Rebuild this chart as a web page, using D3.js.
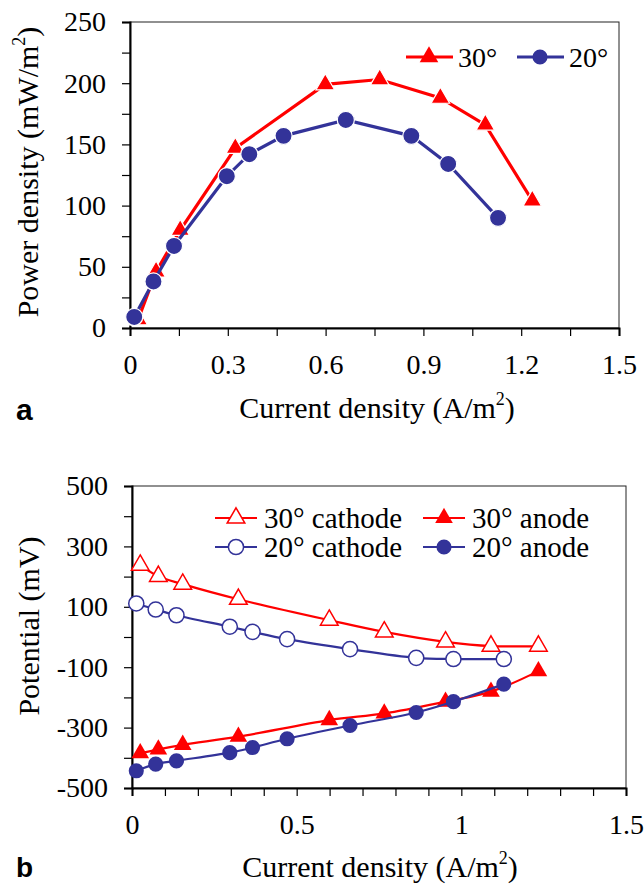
<!DOCTYPE html>
<html lang="en">
<head>
    <meta charset="UTF-8">
    <title>Power density and electrode potential</title>
    <script src="https://cdn.jsdelivr.net/npm/d3@7"></script>
    <style>
        body { margin: 0; background: white; }
        svg text { font-family: "Liberation Serif", "Times New Roman", Times, serif; fill: black; }
        svg text.panel { font-family: "Liberation Sans", Arial, sans-serif; font-weight: bold; }
    </style>
</head>
<body>
<svg id="chart" width="644" height="885"></svg>
<script>
    // data
    // (a) power density, mW/m2
    var x30 = [0.025, 0.08, 0.154, 0.323, 0.599, 0.766, 0.952, 1.09, 1.234];
    var pd30 = [7, 46, 80, 147, 199, 203, 188, 166, 104];
    var x20 = [0.013, 0.072, 0.135, 0.297, 0.366, 0.471, 0.662, 0.863, 0.976, 1.129];
    var pd20 = [9, 38, 67, 124, 142, 157, 170, 157, 134, 90];

    // (b) electrode potentials, mV
    var cat30 = [238, 201, 175, 125, 56, 17, -16, -30, -30];
    var an30 = [-385, -372, -357, -330, -275, -253, -214, -181, -113];
    var cat20 = [111, 91, 72, 34, 17, -7, -40, -69, -73, -73];
    var an20 = [-443, -421, -410, -383, -366, -337, -293, -250, -214, -156];

    var xTicksA = [0, 0.15, 0.3, 0.45, 0.6, 0.75, 0.9, 1.05, 1.2, 1.35, 1.5];
    var yTicksA = [0, 25, 50, 75, 100, 125, 150, 175, 200, 225, 250];
    var xTicksB = [0, 0.1, 0.2, 0.3, 0.4, 0.5, 0.6, 0.7, 0.8, 0.9, 1, 1.1, 1.2, 1.3, 1.4, 1.5];
    var yTicksB = [-500, -400, -300, -200, -100, 0, 100, 200, 300, 400, 500];

    var RED = "#ff0000", BLUE = "#333399";
    var SERIF = "'Liberation Serif', 'Times New Roman', Times, serif";

    var svg = d3.select("#chart");

    function zip(xs, ys) {
        return xs.map(function(x, i) { return {x: x, y: ys[i]}; });
    }

    function drawAxes(g, x, y, xTicks, yTicks, xLab, yLab, w, h) {
        // frame
        g.append("rect").attr("x", 0).attr("y", 0).attr("width", w).attr("height", h)
            .attr("fill", "none").attr("stroke", "#222").attr("stroke-width", 1);

        var ax = g.append("g").attr("transform", "translate(0," + h + ")")
            .call(d3.axisBottom(x).tickValues(xTicks).tickSize(8).tickPadding(18)
                .tickFormat(function(d) { return xLab.indexOf(d) >= 0 ? d3.format("")(d) : ""; }));
        var ay = g.append("g")
            .call(d3.axisLeft(y).tickValues(yTicks).tickSize(8).tickPadding(16)
                .tickFormat(function(d) { return yLab.indexOf(d) >= 0 ? d : ""; }));
        [ax, ay].forEach(function(a) {
            a.attr("font-family", null);
            a.select(".domain").attr("stroke", "black").attr("stroke-width", 2);
            a.selectAll(".tick line").attr("stroke", "black").attr("stroke-width", 1.2);
            a.selectAll("text").attr("font-size", 28).style("font-family", SERIF);
        });
    }

    function addLabel(parent, x, y, main, tail, rotate) {
        var t = parent.append("text")
            .attr("text-anchor", "middle")
            .attr("font-size", 30)
            .style("font-family", SERIF)
            .attr("transform", "translate(" + x + "," + y + ")" + (rotate ? " rotate(-90)" : ""));
        t.append("tspan").text(main);
        t.append("tspan").attr("font-size", 18).attr("dy", -13).text("2");
        t.append("tspan").attr("dy", 13).text(tail);
        return t;
    }

    function symbol(type, size) {
        return d3.symbol().type(type).size(size)();
    }

    // ---------- panel a ----------
    var mA = {left: 130, top: 22, right: 619, bottom: 328};
    var wA = mA.right - mA.left, hA = mA.bottom - mA.top;
    var gA = svg.append("g").attr("transform", "translate(" + mA.left + "," + mA.top + ")");
    var xA = d3.scaleLinear().domain([0, 1.5]).range([0, wA]);
    var yA = d3.scaleLinear().domain([0, 250]).range([hA, 0]);

    drawAxes(gA, xA, yA, xTicksA, yTicksA, [0, 0.3, 0.6, 0.9, 1.2, 1.5], [0, 50, 100, 150, 200, 250], wA, hA);

    var lineA = d3.line().x(function(d) { return xA(d.x); }).y(function(d) { return yA(d.y); });

    var seriesA = [
        {data: zip(x30, pd30), color: RED, type: d3.symbolTriangle, size: 150},
        {data: zip(x20, pd20), color: BLUE, type: d3.symbolCircle, size: 230}
    ];
    seriesA.forEach(function(s) {
        gA.append("path").datum(s.data).attr("d", lineA)
            .attr("fill", "none").attr("stroke", s.color).attr("stroke-width", 3.2);
        gA.selectAll(null).data(s.data).enter().append("path")
            .attr("d", symbol(s.type, s.size))
            .attr("transform", function(d) { return "translate(" + xA(d.x) + "," + yA(d.y) + ")"; })
            .attr("fill", s.color).attr("stroke", "white").attr("stroke-width", 1.2);
    });

    // legend a
    var legA = [
        {x: 406, label: "30°", color: RED, type: d3.symbolTriangle, size: 150},
        {x: 517, label: "20°", color: BLUE, type: d3.symbolCircle, size: 180}
    ];
    legA.forEach(function(l) {
        svg.append("line").attr("x1", l.x).attr("x2", l.x + 47).attr("y1", 57).attr("y2", 57)
            .attr("stroke", l.color).attr("stroke-width", 3.2);
        svg.append("path").attr("d", symbol(l.type, l.size))
            .attr("transform", "translate(" + (l.x + 23) + ",57)").attr("fill", l.color);
        svg.append("text").attr("x", l.x + 52).attr("y", 67).attr("font-size", 28)
            .style("font-family", SERIF).text(l.label);
    });

    addLabel(svg, 38, 172, "Power density (mW/m", ")", true);
    addLabel(svg, 377, 418, "Current density (A/m", ")", false);
    svg.append("text").attr("class", "panel").attr("x", 16).attr("y", 420).attr("font-size", 30).text("a");

    // ---------- panel b ----------
    var mB = {left: 132, top: 486, right: 626, bottom: 788};
    var wB = mB.right - mB.left, hB = mB.bottom - mB.top;
    var gB = svg.append("g").attr("transform", "translate(" + mB.left + "," + mB.top + ")");
    var xB = d3.scaleLinear().domain([0, 1.5]).range([0, wB]);
    var yB = d3.scaleLinear().domain([-500, 500]).range([hB, 0]);

    drawAxes(gB, xB, yB, xTicksB, yTicksB, [0, 0.5, 1, 1.5], [-500, -300, -100, 100, 300, 500], wB, hB);

    var lineB = d3.line().curve(d3.curveCatmullRom.alpha(0.5))
        .x(function(d) { return xB(d.x); }).y(function(d) { return yB(d.y); });

    var seriesB = [
        {data: zip(x30, cat30), color: RED, type: d3.symbolTriangle, size: 135, open: true},
        {data: zip(x30, an30), color: RED, type: d3.symbolTriangle, size: 135, open: false},
        {data: zip(x20, cat20), color: BLUE, type: d3.symbolCircle, size: 180, open: true},
        {data: zip(x20, an20), color: BLUE, type: d3.symbolCircle, size: 180, open: false}
    ];
    seriesB.forEach(function(s) {
        gB.append("path").datum(s.data).attr("d", lineB)
            .attr("fill", "none").attr("stroke", s.color).attr("stroke-width", 2.2);
        gB.selectAll(null).data(s.data).enter().append("path")
            .attr("d", symbol(s.type, s.size))
            .attr("transform", function(d) { return "translate(" + xB(d.x) + "," + yB(d.y) + ")"; })
            .attr("fill", s.open ? "white" : s.color)
            .attr("stroke", s.open ? s.color : "none").attr("stroke-width", 1.5);
    });

    // legend b
    var legB = [
        {x: 215, y: 518, label: "30° cathode", s: seriesB[0]},
        {x: 423, y: 518, label: "30° anode", s: seriesB[1]},
        {x: 215, y: 547, label: "20° cathode", s: seriesB[2]},
        {x: 423, y: 547, label: "20° anode", s: seriesB[3]}
    ];
    legB.forEach(function(l) {
        svg.append("line").attr("x1", l.x).attr("x2", l.x + 42).attr("y1", l.y).attr("y2", l.y)
            .attr("stroke", l.s.color).attr("stroke-width", 2.2);
        svg.append("path").attr("d", symbol(l.s.type, l.s.size))
            .attr("transform", "translate(" + (l.x + 21) + "," + l.y + ")")
            .attr("fill", l.s.open ? "white" : l.s.color)
            .attr("stroke", l.s.open ? l.s.color : "none").attr("stroke-width", 1.5);
        svg.append("text").attr("x", l.x + 49).attr("y", l.y + 10).attr("font-size", 29)
            .style("font-family", SERIF).text(l.label);
    });

    svg.append("text").attr("text-anchor", "middle").attr("font-size", 30)
        .style("font-family", SERIF)
        .attr("transform", "translate(39,626) rotate(-90)").text("Potential (mV)");
    addLabel(svg, 380, 877, "Current density (A/m", ")", false);
    svg.append("text").attr("class", "panel").attr("x", 16).attr("y", 877).attr("font-size", 28).text("b");
</script>
</body>
</html>
